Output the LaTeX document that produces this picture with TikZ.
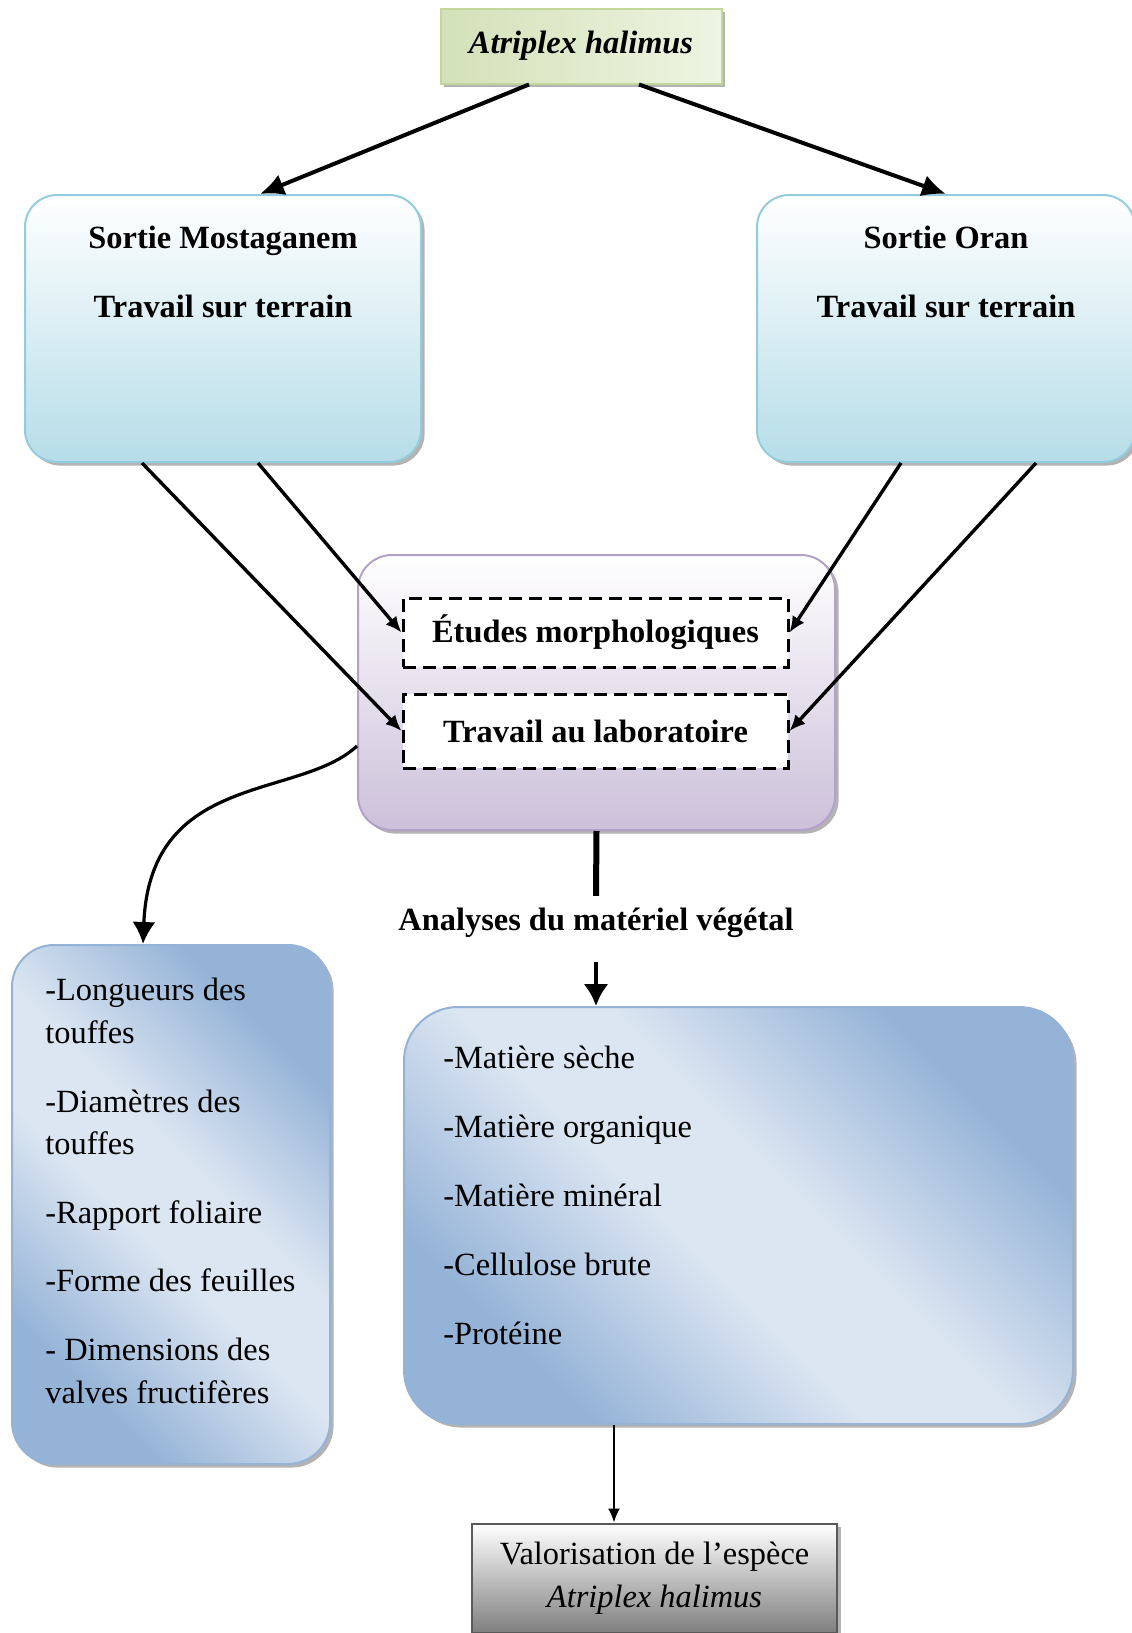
\documentclass[tikz,border=0pt]{standalone}
\usepackage{fontspec}
\setmainfont{Liberation Serif}
\usetikzlibrary{positioning,shadows,arrows.meta}

\definecolor{vertfonce}{HTML}{D3E1B8}
\definecolor{vertclair}{HTML}{EEF4E2}
\definecolor{vertbord}{HTML}{C3D69B}
\definecolor{bleuciel}{HTML}{B6DDE8}
\definecolor{bleubord}{HTML}{93CDDD}
\definecolor{mauve}{HTML}{CCC0DA}
\definecolor{mauvebord}{HTML}{B3A2C7}
\definecolor{bleufonce}{HTML}{95B3D7}
\definecolor{bleupale}{HTML}{DCE6F2}

\pgfdeclareverticalshading{diagbleu}{100bp}{color(0bp)=(bleufonce); color(27bp)=(bleufonce); color(45bp)=(bleupale); color(55bp)=(bleupale); color(73bp)=(bleufonce); color(100bp)=(bleufonce)}

\newcommand{\corps}{\fontsize{16.2}{21.3}\selectfont}

\begin{document}
\begin{tikzpicture}[x=0.5pt, y=-0.5pt,
    ombre/.style={drop shadow={shadow xshift=1.8pt, shadow yshift=-1.8pt, fill=black!50, opacity=0.6}},
    espece/.style={rectangle, draw=vertbord, line width=1pt, left color=vertfonce, right color=vertclair,
      minimum width=140.5pt, minimum height=37.5pt, ombre, font=\corps\bfseries\itshape},
    terrain/.style={rectangle, rounded corners=16pt, draw=bleubord, line width=1pt, top color=white,
      bottom color=bleuciel, minimum width=198pt, minimum height=133.5pt, ombre},
    titre/.style={inner sep=0pt, align=center, font=\corps\bfseries},
    labo/.style={rectangle, rounded corners=17pt, draw=mauvebord, line width=1pt, top color=white,
      bottom color=mauve, minimum width=238.5pt, minimum height=137.5pt, ombre},
    pointille/.style={rectangle, draw, line width=1.5pt, dash pattern=on 6.5pt off 3.5pt, fill=white,
      minimum width=192.5pt, minimum height=34.5pt, font=\corps\bfseries},
    fiche/.style={rectangle, rounded corners=21pt, draw=bleufonce, line width=1pt, shading=diagbleu,
      shading angle=-45, minimum width=159pt, minimum height=259.5pt, ombre},
    liste/.style={inner sep=0pt, anchor=north west, align=left, font=\corps},
    valor/.style={rectangle, draw=black!65, line width=1pt, top color=white, bottom color=black!50,
      minimum width=182.5pt, minimum height=54.5pt, align=center, ombre, font=\corps},
    fleche/.style={draw, line width=2pt, -{Latex[length=12pt, width=11pt]}},
    fleche moy/.style={draw, line width=1.7pt, -{Latex[length=8pt, width=7pt]}},
    fleche forte/.style={draw, line width=1.6pt, -{Latex[length=11pt, width=11.5pt]}},
    fleche fine/.style={draw, line width=1pt, -{Latex[length=7pt, width=6pt]}}]

\useasboundingbox (0,0) rectangle (1131,1633);

\node[espece] (atriplex) at (581,46) {Atriplex halimus};

\node[terrain] (mosta) at (223,328.5) {};
\node[titre, below=16pt of mosta.north] (mostatxt) {Sortie Mostaganem\\[13.2pt]Travail sur terrain};
\node[terrain, minimum width=189pt] (oran) at (946,328.5) {};
\node[titre, below=16pt of oran.north] (orantxt) {Sortie Oran\\[13.2pt]Travail sur terrain};

\node[labo] (labo) at (596.5,692.5) {};
\node[pointille] (etudes) at (595.5,632.5) {Études morphologiques};
\node[pointille, minimum height=37pt] (travlab) at (595.5,731) {Travail au laboratoire};

\node[titre] (analyses) at (596,923) {Analyses du matériel végétal};

\node[fiche] (morpho) at (171,1204.5) {};
\node[liste, below right=17pt and 17pt of morpho.north west] (morphotxt)
  {-Longueurs des\\touffes\\[13pt]-Diamètres des\\touffes\\[13pt]-Rapport foliaire\\[13pt]-Forme des feuilles\\[13pt]- Dimensions des\\valves fructifères};

\node[fiche, minimum width=334.5pt, minimum height=208.5pt, rounded corners=27pt] (chimie) at (738.5,1215.5) {};
\node[liste, below right=20pt and 20pt of chimie.north west] (chimietxt)
  {-Matière sèche\\[13.1pt]-Matière organique\\[13.1pt]-Matière minéral\\[13.1pt]-Cellulose brute\\[13.1pt]-Protéine};

\node[valor] (valor) at (654.5,1578) {Valorisation de l’espèce\\\textit{Atriplex halimus}};

% liaisons
\path[fleche] ([xshift=-26pt]atriplex.south) -- ([xshift=18.5pt]mosta.north);
\path[fleche] ([xshift=29pt]atriplex.south) -- (oran.north);
\path[fleche moy] ([xshift=17.5pt]mosta.south) -- (etudes.west);
\path[fleche moy] ([xshift=-40.5pt]mosta.south) -- (travlab.west);
\path[fleche moy] ([xshift=-22.5pt]oran.south) -- (etudes.east);
\path[fleche moy] ([xshift=45pt]oran.south) -- (travlab.east);
\path[fleche forte] ([yshift=-26.75pt]labo.west) .. controls +(-58,54) and +(7,-173) .. ([xshift=-14pt]morpho.north);
\draw[line width=3pt] (labo.south) -- ([yshift=6pt]analyses.north);
\path[fleche forte, line width=2pt, -{Latex[length=11pt, width=12.5pt]}] ([yshift=-12pt]analyses.south) -- (analyses.south |- chimie.north);
\path[fleche fine] ([xshift=-62.25pt]chimie.south) -- ([xshift=-62.25pt]chimie.south |- valor.north);
\end{tikzpicture}
\end{document}
